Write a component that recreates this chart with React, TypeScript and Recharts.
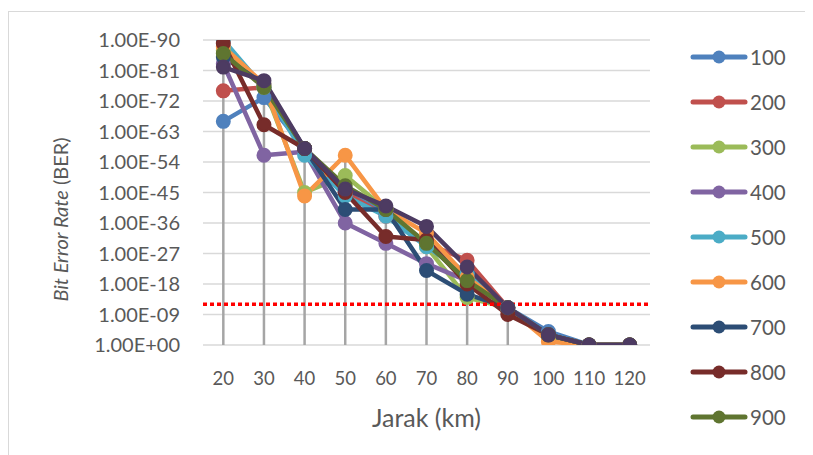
import React from 'react';
import { LineChart, Line, XAxis, YAxis, CartesianGrid, ReferenceLine } from 'recharts';

// jarak (km)
const distances = [20, 30, 40, 50, 60, 70, 80, 90, 100, 110, 120];

// BER per series
const ber100 = [1e-66, 1e-73, 1e-58, 1e-45, 1e-39, 1e-30, 1e-21, 1e-11, 1e-4, 1, 1];
const ber200 = [1e-75, 1e-76, 1e-58, 1e-45, 1e-38, 1e-30, 1e-25, 1e-11, 1e-3, 1, 1];
const ber300 = [1e-87, 1e-76, 1e-45, 1e-50, 1e-40, 1e-29, 1e-14, 1e-11, 1e-2, 1, 1];
const ber400 = [1e-83, 1e-56, 1e-57, 1e-36, 1e-30, 1e-24, 1e-19, 1e-11, 1e-3, 1, 1];
const ber500 = [1e-90, 1e-76, 1e-56, 1e-44, 1e-38, 1e-29, 1e-21, 1e-11, 1e-3, 1, 1];
const ber600 = [1e-88, 1e-77, 1e-44, 1e-56, 1e-40, 1e-33, 1e-20, 1e-11, 1e-1, 1, 1];
const ber700 = [1e-85, 1e-77, 1e-58, 1e-40, 1e-40, 1e-22, 1e-15, 1e-11, 1e-3, 1, 1];
const ber800 = [1e-89, 1e-65, 1e-58, 1e-45, 1e-32, 1e-31, 1e-18, 1e-9, 1e-3, 1, 1];
const ber900 = [1e-86, 1e-76, 1e-58, 1e-47, 1e-40, 1e-30, 1e-19, 1e-11, 1e-3, 1, 1];
const ber1000 = [1e-82, 1e-78, 1e-58, 1e-46, 1e-41, 1e-35, 1e-23, 1e-11, 1e-3, 1, 1];

const seriesNames = ['100', '200', '300', '400', '500', '600', '700', '800', '900', '1000'];
const seriesValues = [ber100, ber200, ber300, ber400, ber500, ber600, ber700, ber800, ber900, ber1000];
const seriesColors = ['#4F81BD', '#C0504D', '#9BBB59', '#8064A2', '#4BACC6', '#F79646', '#2C4D75', '#772C2A', '#5F7530', '#4D3B62'];

const yTicks = [1e-90, 1e-81, 1e-72, 1e-63, 1e-54, 1e-45, 1e-36, 1e-27, 1e-18, 1e-9, 1];
const berLimit = 1e-12;

// the legend box only has room for the first nine entries
const legendShown = 9;

const data = distances.map((km, i) => {
  const row: Record<string, number> = { km };
  seriesNames.forEach((name, s) => {
    row['s' + name] = seriesValues[s][i];
  });
  return row;
});

// drop lines go from the lowest BER at each distance down to the axis
const dropTops = distances.map((_, i) => Math.min(...seriesValues.map((v) => v[i])));

const textColor = '#595959';

const fmtBer = (v: number) => {
  const e = Math.round(Math.log10(v));
  return `1.00E${e < 0 ? '-' : '+'}${String(Math.abs(e)).padStart(2, '0')}`;
};

const YTitle = (props: any) => {
  const vb = props.viewBox || {};
  const cx = vb.x + 52;
  const cy = vb.y + vb.height / 2 + 27;
  return (
    <text
      x={cx}
      y={cy}
      transform={`rotate(-90, ${cx}, ${cy})`}
      textAnchor="middle"
      dominantBaseline="central"
      fill={textColor}
      fontSize={20}
    >
      <tspan fontStyle="italic">Bit Error Rate</tspan>
      <tspan> (BER)</tspan>
    </text>
  );
};

const XTitle = (props: any) => {
  const vb = props.viewBox || {};
  return (
    <text
      x={vb.x + vb.width / 2}
      y={vb.y + 72}
      textAnchor="middle"
      dominantBaseline="central"
      fill={textColor}
      fontSize={25}
    >
      Jarak (km)
    </text>
  );
};

const App: React.FC = () => {
  return (
    <div style={{ position: 'relative', width: 805, height: 447, overflow: 'hidden', fontFamily: 'Lato' }}>
      <div
        style={{
          position: 'absolute',
          left: 0,
          top: 3,
          width: 900,
          height: 600,
          border: '1.5px solid #D9D9D9',
          boxSizing: 'border-box',
        }}
      />
      <div style={{ position: 'absolute', left: 0, top: 0 }}>
        <LineChart
          width={660}
          height={447}
          data={data}
          margin={{ top: 32, right: 18, left: 0, bottom: 50 }}
          style={{ fontFamily: 'Lato' }}
        >
          <CartesianGrid vertical={false} stroke="#D9D9D9" strokeWidth={1.5} />
          <XAxis
            dataKey="km"
            type="number"
            domain={[15, 125]}
            ticks={distances}
            axisLine={false}
            tickLine={false}
            tickSize={0}
            tickMargin={27}
            height={60}
            tick={{ fill: textColor, fontSize: 18.5 }}
            label={<XTitle />}
          />
          <YAxis
            type="number"
            scale="log"
            domain={[1e-90, 1]}
            ticks={yTicks}
            reversed
            allowDataOverflow
            axisLine={false}
            tickLine={false}
            tickSize={0}
            tickMargin={23}
            width={195}
            tickFormatter={fmtBer}
            tick={{ fill: textColor, fontSize: 20 }}
            label={<YTitle />}
          />
          {seriesNames.map((name, s) => (
            <Line
              key={name}
              type="linear"
              dataKey={'s' + name}
              name={name}
              stroke={seriesColors[s]}
              strokeWidth={4.5}
              strokeLinejoin="round"
              strokeLinecap="round"
              dot={{ r: 6.5, fill: seriesColors[s], stroke: seriesColors[s], strokeWidth: 2 }}
              isAnimationActive={false}
            />
          ))}
          {distances.map((km, i) =>
            dropTops[i] < 1 ? (
              <ReferenceLine
                key={'drop' + km}
                segment={[
                  { x: km, y: dropTops[i] },
                  { x: km, y: 1 },
                ]}
                stroke="#A5A5A5"
                strokeWidth={2.5}
              />
            ) : null
          )}
          <ReferenceLine y={berLimit} stroke="#FF0000" strokeWidth={3.5} strokeDasharray="4 3" />
        </LineChart>
      </div>
      <div style={{ position: 'absolute', left: 682, top: 27 }}>
        {seriesNames.slice(0, legendShown).map((name, s) => (
          <div key={name} style={{ display: 'flex', alignItems: 'center', height: 44.9 }}>
            <svg width={60} height={16}>
              <line x1={3} y1={8} x2={55} y2={8} stroke={seriesColors[s]} strokeWidth={5} strokeLinecap="round" />
              <circle cx={29} cy={8} r={6.5} fill={seriesColors[s]} />
            </svg>
            <span style={{ fontSize: 20.5, color: textColor }}>{name}</span>
          </div>
        ))}
      </div>
    </div>
  );
};

export default App;
